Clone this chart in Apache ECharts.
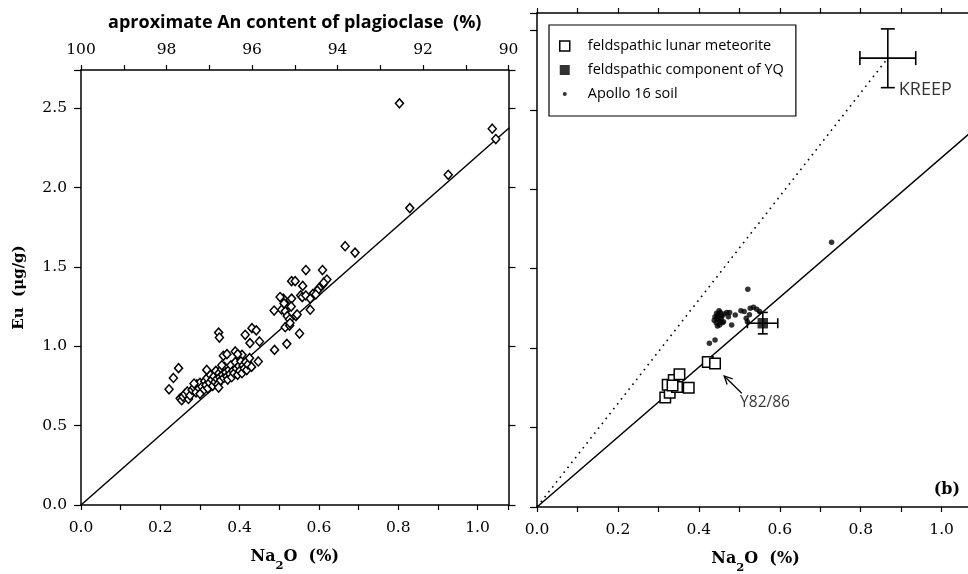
<!DOCTYPE html>
<html><head><meta charset="utf-8">
<script src="https://cdn.jsdelivr.net/npm/echarts/dist/echarts.min.js"></script>
<style>html,body{margin:0;padding:0;background:#fff}#c{width:968px;height:574px}</style>
</head><body><div id="c"></div>
<script>
// ---------- tick labels ----------
const naTickLabels = ['0.0','0.2','0.4','0.6','0.8','1.0'];
const euTickLabels = ['0.0','0.5','1.0','1.5','2.0','2.5'];
const anTickLabels = ['90','92','94','96','98','100'];

// ---------- panel (a): Eu vs Na2O, feldspathic samples ----------
const leftSamples = [
  [0.803,2.53],[1.037,2.37],[1.046,2.305],[0.926,2.08],[0.829,1.87],[0.666,1.63],[0.691,1.59],
  [0.567,1.48],[0.609,1.48],[0.531,1.41],[0.540,1.41],[0.559,1.38],[0.620,1.42],[0.609,1.385],
  [0.600,1.366],[0.596,1.35],[0.612,1.40],[0.585,1.33],
  [0.554,1.32],[0.558,1.31],[0.567,1.32],[0.578,1.30],[0.592,1.326],[0.531,1.30],[0.510,1.30],
  [0.502,1.31],[0.519,1.26],[0.530,1.25],[0.578,1.23],[0.506,1.23],[0.515,1.22],[0.542,1.19],
  [0.520,1.19],[0.526,1.17],[0.515,1.12],[0.526,1.13],[0.551,1.08],[0.519,1.015],[0.487,1.225],
  [0.488,0.977],[0.512,1.27],[0.527,1.146],[0.545,1.20],
  [0.347,1.086],[0.349,1.055],[0.414,1.072],[0.426,1.02],[0.431,1.114],[0.442,1.10],[0.450,1.03],
  [0.447,0.904],[0.416,0.868],[0.389,0.967],[0.359,0.94],[0.368,0.95],[0.406,0.946],
  [0.222,0.729],[0.233,0.80],[0.246,0.862],[0.250,0.672],[0.254,0.66],[0.271,0.668],[0.257,0.683],
  [0.262,0.700],[0.268,0.715],[0.275,0.690],[0.280,0.725],[0.285,0.740],[0.290,0.710],[0.292,0.760],
  [0.298,0.735],[0.300,0.770],[0.305,0.745],[0.308,0.720],[0.312,0.780],[0.315,0.755],[0.318,0.800],
  [0.320,0.735],[0.324,0.770],[0.326,0.820],[0.330,0.790],[0.332,0.750],[0.335,0.810],[0.338,0.775],
  [0.340,0.845],[0.343,0.795],[0.345,0.760],[0.348,0.830],[0.350,0.805],[0.352,0.785],[0.355,0.855],
  [0.357,0.820],[0.360,0.800],[0.362,0.870],[0.365,0.835],[0.368,0.810],[0.370,0.790],[0.373,0.850],
  [0.376,0.825],[0.378,0.880],[0.380,0.805],[0.383,0.845],[0.386,0.830],[0.389,0.900],[0.392,0.860],
  [0.395,0.820],[0.398,0.875],[0.400,0.845],[0.403,0.905],[0.406,0.830],[0.409,0.880],[0.412,0.860],
  [0.415,0.900],[0.418,0.850],[0.421,0.885],[0.425,0.925],[0.317,0.851],[0.347,0.740],[0.285,0.765],
  [0.300,0.700],[0.355,0.880],[0.395,0.950],[0.430,0.870]
];
const fitLine = [[0,0],[1.08,2.376]];

// ---------- panel (b) ----------
const lunarMeteorites = [[0.317,0.69],[0.328,0.72],[0.323,0.77],[0.338,0.80],[0.352,0.835],
  [0.346,0.755],[0.375,0.75],[0.422,0.913],[0.440,0.903],[0.335,0.765]];
const yqComponent = [[0.558,1.157]];
const apollo16Soil = [[0.444,1.22],[0.453,1.224],[0.440,1.198],[0.448,1.18],[0.457,1.203],[0.443,1.16],
  [0.451,1.146],[0.461,1.167],[0.469,1.224],[0.473,1.198],[0.481,1.146],[0.490,1.209],[0.504,1.236],
  [0.512,1.23],[0.517,1.188],[0.527,1.251],[0.535,1.257],[0.543,1.245],[0.520,1.167],[0.426,1.031],
  [0.440,1.052],[0.728,1.667],[0.521,1.371],[0.447,1.21],[0.455,1.19],[0.462,1.215],[0.450,1.235],
  [0.438,1.175],[0.446,1.14],[0.476,1.225],[0.458,1.16],[0.525,1.21],[0.550,1.23],[0.445,1.195],[0.452,1.17]];
// [x, y, xLow, xHigh, yLow, yHigh]
const errorBars = [[0.867,2.826,0.798,0.936,2.64,3.01],[0.558,1.157,0.52,0.595,1.09,1.225]];
const kreepLine = [[0,0],[0.867,2.826]];
const kreepLabel = [[0.867,2.64]];
const y8286Arrow = [[0.506,0.716,0.4625,0.825]]; // tail x,y, head x,y
const y8286Label = [[0.502,0.671]];

const capHalf = [7, 5];
const SERIF = 'DejaVu Serif';
const SANS = 'Open Sans';
const BLACK = '#000';

function fmtFrom(list, digits){
  return v => { const s = v.toFixed(digits); return (list.includes(s) && Math.abs(v-parseFloat(s))<1e-6) ? s : ''; };
}
function axis(o){
  const base = {
    type:'value',
    axisLine:{show:true,onZero:false,lineStyle:{color:BLACK,width:1.5}},
    axisTick:{show:true,inside:false,length:5,lineStyle:{color:BLACK,width:1.2}},
    splitLine:{show:false},
    axisLabel:{show:false}
  };
  return Object.assign(base, o);
}
const labelStyle = {show:true,color:BLACK,fontFamily:SERIF,fontSize:15.5};
const naName = '{b|Na}{s|2}{b|O  (%)}';
const naNameStyle = {rich:{
  b:{fontFamily:SERIF,fontWeight:'bold',fontSize:16,color:BLACK,lineHeight:22,verticalAlign:'middle'},
  s:{fontFamily:SERIF,fontWeight:'bold',fontSize:11.5,color:BLACK,lineHeight:30,verticalAlign:'bottom'}}};

const chart = echarts.init(document.getElementById('c'));
chart.setOption({
  animation:false,
  backgroundColor:'#fff',
  grid:[
    {left:81, right:459.5, top:70, bottom:69, outerBoundsMode:'none', containLabel:false},
    {left:537, right:-6, top:13, bottom:67, outerBoundsMode:'none', containLabel:false}
  ],
  xAxis:[
    axis({gridIndex:0, position:'bottom', min:0, max:1.078, interval:0.1,
      axisLabel:Object.assign({}, labelStyle, {margin:15, formatter:fmtFrom(naTickLabels,1)}),
      name:naName, nameLocation:'middle', nameGap:37, nameTextStyle:naNameStyle}),
    axis({gridIndex:0, position:'top', min:90, max:100, interval:1, inverse:true,
      axisLabel:Object.assign({}, labelStyle, {margin:12, formatter:fmtFrom(anTickLabels,0)}),
      name:'aproximate An content of plagioclase  (%)', nameLocation:'middle', nameGap:38,
      nameTextStyle:{fontFamily:SANS,fontWeight:'bold',fontSize:18,color:BLACK}}),
    axis({gridIndex:1, position:'bottom', min:0, max:1.08, interval:0.1,
      axisLabel:Object.assign({}, labelStyle, {margin:15, formatter:fmtFrom(naTickLabels,1)}),
      name:naName, nameLocation:'middle', nameGap:37, nameTextStyle:naNameStyle}),
    axis({gridIndex:1, position:'top', min:0, max:1.08, interval:0.1})
  ],
  yAxis:[
    axis({gridIndex:0, position:'left', min:0, max:2.74, interval:0.5,
      axisTick:{show:true,inside:false,length:7,lineStyle:{color:BLACK,width:1.2}},
      axisLabel:Object.assign({}, labelStyle, {margin:14, formatter:fmtFrom(euTickLabels,1)}),
      name:'Eu  (μg/g)', nameLocation:'middle', nameGap:54, nameRotate:90,
      nameTextStyle:{fontFamily:SERIF,fontWeight:'bold',fontSize:15,color:BLACK}}),
    axis({gridIndex:0, position:'right', min:0, max:2.74, interval:0.5,
      axisTick:{show:true,inside:false,length:7,lineStyle:{color:BLACK,width:1.2}}}),
    axis({gridIndex:1, position:'left', min:0, max:3.11, interval:0.5,
      axisTick:{show:true,inside:false,length:7,lineStyle:{color:BLACK,width:1.2}}})
  ],
  legend:{
    orient:'vertical', left:549, top:25,
    borderColor:BLACK, borderWidth:1.2, backgroundColor:'#fff',
    padding:[13,12,14,10], itemWidth:10, itemHeight:10, itemGap:8,
    textStyle:{fontFamily:SANS,fontSize:14.5,color:BLACK,lineHeight:16,padding:[0,0,0,13]},
    data:[
      {name:'feldspathic lunar meteorite', icon:'rect', itemStyle:{color:'#fff',borderColor:BLACK,borderWidth:1.5}},
      {name:'feldspathic component of YQ', icon:'rect', itemStyle:{color:BLACK,borderColor:BLACK,borderWidth:0}},
      {name:'Apollo 16 soil', icon:'path://M0,0M10,10M7,5A2,2,0,1,1,3,5A2,2,0,1,1,7,5Z', itemStyle:{color:BLACK,borderWidth:0}}
    ]
  },
  graphic:[
    {type:'text', right:8, bottom:76, style:{text:'(b)', fontFamily:SERIF, fontWeight:'bold', fontSize:16, fill:BLACK}}
  ],
  series:[
    {type:'line', xAxisIndex:0, yAxisIndex:0, data:fitLine, showSymbol:false, symbol:'none',
      lineStyle:{color:BLACK,width:1.5}, z:2, silent:true},
    {type:'scatter', xAxisIndex:0, yAxisIndex:0, data:leftSamples, symbol:'diamond', symbolSize:[8,9],
      itemStyle:{color:'#fff',borderColor:BLACK,borderWidth:1.5,opacity:1}, z:3},
    {type:'line', xAxisIndex:2, yAxisIndex:2, data:fitLine, showSymbol:false, symbol:'none',
      lineStyle:{color:BLACK,width:1.5}, z:2, silent:true},
    {type:'line', xAxisIndex:2, yAxisIndex:2, data:kreepLine, showSymbol:false, symbol:'none',
      lineStyle:{color:BLACK,width:1.6,type:[1.6,4.6]}, z:2, silent:true},
    {type:'custom', xAxisIndex:2, yAxisIndex:2, data:errorBars, clip:false, z:4,
      encode:{x:[0,2,3], y:[1,4,5]},
      renderItem:function(params, api){
        const x=api.value(0), y=api.value(1);
        const l=api.coord([api.value(2),y]), r=api.coord([api.value(3),y]);
        const b=api.coord([x,api.value(4)]), t=api.coord([x,api.value(5)]);
        const h=capHalf[params.dataIndex];
        const st={stroke:BLACK,lineWidth:1.6};
        return {type:'group', children:[
          {type:'line',shape:{x1:l[0],y1:l[1],x2:r[0],y2:r[1]},style:st},
          {type:'line',shape:{x1:b[0],y1:b[1],x2:t[0],y2:t[1]},style:st},
          {type:'line',shape:{x1:l[0],y1:l[1]-h,x2:l[0],y2:l[1]+h},style:st},
          {type:'line',shape:{x1:r[0],y1:r[1]-h,x2:r[0],y2:r[1]+h},style:st},
          {type:'line',shape:{x1:b[0]-h,y1:b[1],x2:b[0]+h,y2:b[1]},style:st},
          {type:'line',shape:{x1:t[0]-h,y1:t[1],x2:t[0]+h,y2:t[1]},style:st}
        ]};
      }},
    {name:'Apollo 16 soil', type:'scatter', xAxisIndex:2, yAxisIndex:2, data:apollo16Soil,
      symbol:'circle', symbolSize:5.5, itemStyle:{color:BLACK}, z:5},
    {name:'feldspathic lunar meteorite', type:'scatter', xAxisIndex:2, yAxisIndex:2, data:lunarMeteorites,
      symbol:'rect', symbolSize:10.5, itemStyle:{color:'#fff',borderColor:BLACK,borderWidth:1.5,opacity:1}, z:6},
    {name:'feldspathic component of YQ', type:'scatter', xAxisIndex:2, yAxisIndex:2, data:yqComponent,
      symbol:'rect', symbolSize:10.5, itemStyle:{color:BLACK}, z:6},
    {type:'scatter', xAxisIndex:2, yAxisIndex:2, data:kreepLabel, symbolSize:0, silent:true,
      label:{show:true, position:'right', distance:11, offset:[0,2], formatter:'KREEP', fontFamily:SANS, fontSize:18, color:BLACK}},
    {type:'scatter', xAxisIndex:2, yAxisIndex:2, data:y8286Label, symbolSize:0, silent:true,
      label:{show:true, position:'right', distance:0, offset:[0,2], formatter:'Y82/86', fontFamily:SANS, fontSize:15.5, color:BLACK}},
    {type:'custom', xAxisIndex:2, yAxisIndex:2, data:y8286Arrow, clip:false, z:6,
      encode:{x:[0,2], y:[1,3]},
      renderItem:function(params, api){
        const p1=api.coord([api.value(0),api.value(1)]), p2=api.coord([api.value(2),api.value(3)]);
        const ang=Math.atan2(p1[1]-p2[1], p1[0]-p2[0]);
        const L=9, a=0.45;
        const st={stroke:BLACK,lineWidth:1.3,fill:null};
        return {type:'group', children:[
          {type:'line',shape:{x1:p1[0],y1:p1[1],x2:p2[0],y2:p2[1]},style:st},
          {type:'polyline',shape:{points:[[p2[0]+L*Math.cos(ang+a),p2[1]+L*Math.sin(ang+a)],[p2[0],p2[1]],[p2[0]+L*Math.cos(ang-a),p2[1]+L*Math.sin(ang-a)]]},style:st}
        ]};
      }}
  ]
});
</script></body></html>
